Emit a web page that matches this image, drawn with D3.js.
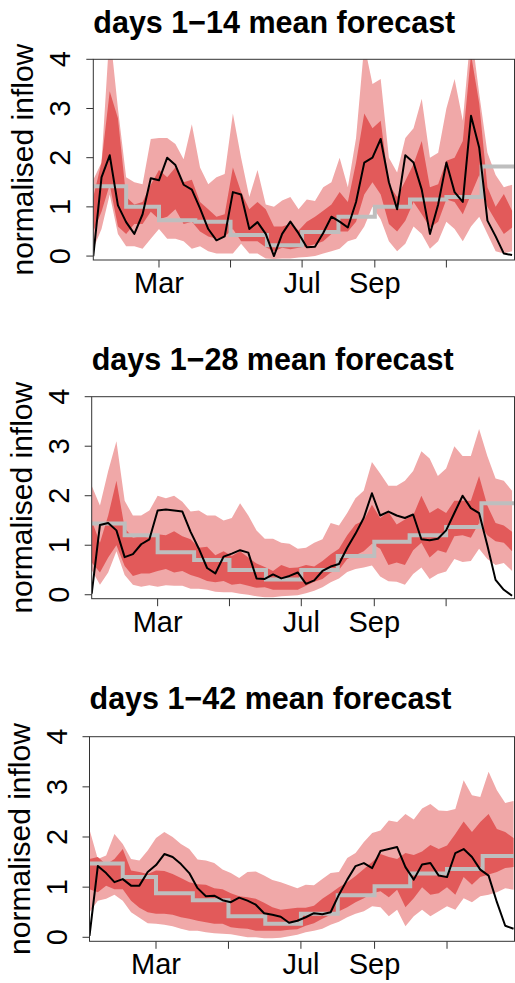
<!DOCTYPE html>
<html>
<head>
<meta charset="utf-8">
<script src="https://cdn.jsdelivr.net/npm/d3@7"></script>
<style>
body { margin: 0; background: #fff; }
svg { display: block; font-family: "Liberation Sans", Arial, Helvetica, sans-serif; }
</style>
</head>
<body>
<script>
// weekly forecast dates, Jan 4 .. Dec 27
var weeks = d3.timeDay.range(new Date(2001, 0, 4), new Date(2001, 11, 28), 7);
var monthStarts = d3.timeMonth.range(new Date(2001, 0, 1), new Date(2002, 0, 2));

var tickMonths = [2, 4, 6, 8, 10];
var tickLabels = ["Mar", "", "Jul", "Sep", ""];
var yTicks = [0, 1, 2, 3, 4];

// days 1-14
var p1Obs = [0.0, 1.6, 2.05, 1.03, 0.69, 0.45, 0.85, 1.58, 1.54, 2.0, 1.85, 1.45, 1.35, 0.97, 0.55, 0.32, 0.4, 1.3, 1.25, 0.55, 0.69, 0.45, 0.0, 0.45, 0.7, 0.46, 0.18, 0.19, 0.47, 0.8, 0.7, 0.58, 1.1, 1.9, 2.0, 2.38, 1.5, 0.95, 2.05, 1.9, 1.35, 0.45, 1.05, 1.9, 1.3, 1.1, 2.85, 2.2, 0.72, 0.4, 0.05, 0.02];
var p1Q95 = [1.55, 1.9, 4.6, 3.0, 1.6, 1.5, 1.46, 2.38, 2.4, 2.4, 2.28, 1.97, 2.68, 1.8, 1.46, 1.6, 1.67, 2.9, 2.0, 1.2, 1.75, 1.05, 1.0, 1.13, 1.2, 0.95, 1.15, 1.12, 1.4, 1.5, 2.0, 1.4, 2.4, 4.3, 3.5, 3.6, 2.0, 1.7, 2.4, 2.6, 3.2, 2.0, 2.1, 3.0, 3.6, 2.75, 4.6, 3.3, 2.1, 1.65, 1.4, 1.45];
var p1Q75 = [1.2, 1.9, 3.35, 2.8, 1.2, 1.05, 1.1, 1.45, 1.75, 1.6, 1.8, 1.5, 1.55, 1.1, 0.95, 0.8, 0.85, 1.8, 1.3, 0.95, 1.1, 0.95, 0.6, 0.6, 0.65, 0.52, 0.7, 0.8, 0.92, 1.05, 1.3, 1.1, 1.9, 2.9, 2.6, 2.75, 1.46, 1.2, 1.53, 1.87, 2.34, 1.4, 1.46, 1.94, 2.0, 2.34, 4.1, 3.1, 1.4, 1.0, 1.26, 0.92];
var p1Q25 = [0.5, 0.9, 1.45, 0.6, 0.45, 0.65, 0.65, 0.9, 0.75, 0.8, 0.95, 0.65, 0.7, 0.5, 0.4, 0.35, 0.4, 0.55, 0.3, 0.3, 0.3, 0.18, 0.1, 0.17, 0.14, 0.17, 0.2, 0.24, 0.3, 0.45, 0.5, 0.5, 0.7, 1.25, 1.5, 1.25, 0.65, 0.5, 0.72, 1.1, 0.85, 0.58, 0.7, 1.15, 1.1, 0.85, 1.25, 1.65, 1.0, 0.72, 0.45, 0.58];
var p1Q05 = [0.15, 0.55, 1.25, 0.45, 0.2, 0.2, 0.15, 0.35, 0.55, 0.35, 0.35, 0.3, 0.15, 0.2, 0.1, 0.05, 0.05, 0.05, 0.25, 0.05, 0.05, -0.05, -0.06, -0.05, -0.05, -0.03, -0.02, 0.0, 0.05, 0.1, 0.15, 0.3, 0.35, 0.6, 1.0, 0.75, 0.3, 0.1, 0.25, 0.6, 0.45, 0.15, 0.3, 0.7, 0.55, 0.3, 0.6, 0.8, 0.45, 0.1, 0.05, 0.1];
var p1Clim = [1.42, 1.0, 0.73, 0.7, 0.43, 0.22, 0.49, 0.8, 1.0, 1.15, 1.2, 1.82];

// days 1-28
var p2Obs = [0.02, 1.41, 1.45, 1.3, 0.76, 0.82, 1.02, 1.12, 1.7, 1.72, 1.7, 1.68, 1.27, 0.93, 0.54, 0.43, 0.77, 0.83, 0.9, 0.85, 0.33, 0.32, 0.41, 0.33, 0.38, 0.45, 0.22, 0.29, 0.48, 0.57, 0.62, 0.95, 1.23, 1.55, 2.05, 1.6, 1.68, 1.6, 1.55, 1.62, 1.12, 1.1, 1.13, 1.3, 1.65, 2.0, 1.75, 1.65, 1.0, 0.3, 0.1, -0.02];
var p2Q95 = [2.2, 1.8, 2.5, 3.1, 1.9, 1.6, 1.6, 1.7, 2.0, 1.95, 2.0, 1.88, 1.68, 1.7, 1.6, 1.6, 1.5, 1.55, 1.85, 1.6, 1.3, 1.13, 1.13, 1.05, 1.03, 0.93, 0.95, 1.05, 1.12, 1.45, 1.4, 1.65, 1.95, 2.1, 2.68, 2.45, 2.2, 2.2, 2.3, 2.5, 2.9, 2.75, 2.4, 2.55, 3.0, 2.8, 2.8, 3.35, 2.8, 2.35, 2.3, 2.1];
var p2Q75 = [1.5, 1.05, 1.6, 2.3, 1.35, 1.15, 1.18, 1.15, 1.22, 1.2, 1.28, 1.18, 1.12, 0.95, 0.97, 0.8, 0.88, 0.78, 0.88, 0.75, 0.63, 0.56, 0.48, 0.6, 0.54, 0.55, 0.6, 0.57, 0.68, 0.82, 0.93, 1.2, 1.42, 1.5, 1.82, 1.55, 1.67, 1.42, 1.52, 1.6, 2.0, 1.65, 1.75, 1.65, 1.9, 1.9, 1.9, 2.4, 1.8, 1.45, 1.4, 1.27];
var p2Q25 = [0.65, 0.45, 0.75, 1.0, 0.58, 0.38, 0.43, 0.43, 0.48, 0.52, 0.45, 0.48, 0.4, 0.35, 0.28, 0.25, 0.28, 0.2, 0.22, 0.18, 0.14, 0.15, 0.1, 0.1, 0.1, 0.1, 0.18, 0.26, 0.32, 0.45, 0.5, 0.72, 0.8, 0.88, 1.03, 0.93, 0.6, 0.65, 0.6, 0.9, 1.05, 0.75, 0.9, 0.85, 1.18, 1.2, 1.15, 1.45, 1.2, 1.08, 1.05, 0.88];
var p2Q05 = [0.5, 0.2, 0.45, 0.88, 0.4, 0.2, 0.16, 0.19, 0.16, 0.19, 0.18, 0.18, 0.12, 0.12, 0.1, 0.06, 0.05, 0.05, 0.02, 0.0, -0.03, -0.05, -0.05, -0.03, -0.02, -0.01, 0.03, 0.08, 0.15, 0.25, 0.33, 0.46, 0.52, 0.55, 0.59, 0.37, 0.27, 0.26, 0.2, 0.42, 0.55, 0.32, 0.42, 0.47, 0.72, 0.66, 0.68, 0.93, 0.72, 0.6, 0.64, 0.48];
var p2Clim = [1.44, 1.2, 0.86, 0.7, 0.5, 0.31, 0.5, 0.78, 1.07, 1.2, 1.37, 1.85];

// days 1-42
var p3Obs = [0.03, 1.42, 1.28, 1.1, 1.16, 1.03, 1.03, 1.3, 1.44, 1.66, 1.6, 1.46, 1.28, 0.98, 0.82, 0.83, 0.74, 0.7, 0.79, 0.73, 0.65, 0.48, 0.45, 0.41, 0.29, 0.33, 0.4, 0.48, 0.46, 0.5, 0.85, 1.15, 1.42, 1.48, 1.38, 1.72, 1.76, 1.8, 1.4, 1.15, 1.45, 1.48, 1.23, 1.2, 1.68, 1.76, 1.6, 1.35, 1.23, 0.7, 0.23, 0.17];
var p3Q95 = [2.15, 1.56, 1.63, 2.06, 1.86, 1.56, 1.53, 1.73, 1.98, 2.1, 2.0, 1.86, 1.76, 1.55, 1.53, 1.48, 1.35, 1.28, 1.18, 1.3, 1.31, 1.23, 1.14, 1.1, 1.04, 0.98, 1.05, 1.04, 1.16, 1.28, 1.3, 1.58, 1.68, 1.9, 2.08, 2.13, 2.33, 2.3, 2.46, 2.35, 2.57, 2.66, 2.53, 2.52, 2.56, 3.13, 2.83, 2.8, 3.3, 2.93, 2.68, 2.72];
var p3Q75 = [1.56, 1.6, 1.45, 1.56, 1.76, 1.33, 1.3, 1.26, 1.33, 1.32, 1.26, 1.18, 1.1, 1.06, 1.05, 0.98, 0.96, 0.88, 0.82, 0.8, 0.77, 0.69, 0.6, 0.55, 0.57, 0.59, 0.59, 0.63, 0.77, 0.88, 1.0, 1.1, 1.22, 1.36, 1.5, 1.66, 1.6, 1.56, 1.68, 1.64, 1.71, 1.84, 1.76, 1.83, 2.06, 2.31, 2.1, 2.3, 2.46, 2.16, 2.1, 1.98];
var p3Q25 = [0.96, 0.9, 1.03, 0.96, 0.96, 0.73, 0.59, 0.5, 0.47, 0.47, 0.45, 0.4, 0.37, 0.33, 0.3, 0.27, 0.27, 0.2, 0.18, 0.17, 0.13, 0.13, 0.13, 0.13, 0.15, 0.16, 0.23, 0.28, 0.37, 0.45, 0.52, 0.6, 0.7, 0.78, 0.88, 0.92, 0.8, 0.95, 0.6, 0.78, 1.0, 0.85, 0.88, 1.0, 0.85, 1.2, 1.05, 1.2, 1.25, 1.3, 1.38, 1.4];
var p3Q05 = [0.5, 0.73, 0.77, 0.85, 0.73, 0.5, 0.39, 0.28, 0.27, 0.25, 0.22, 0.17, 0.13, 0.13, 0.1, 0.08, 0.07, 0.06, 0.03, 0.0, 0.0, -0.02, -0.02, -0.01, 0.02, 0.05, 0.1, 0.13, 0.17, 0.25, 0.31, 0.4, 0.47, 0.52, 0.62, 0.6, 0.42, 0.55, 0.22, 0.42, 0.55, 0.42, 0.52, 0.62, 0.55, 0.78, 0.7, 0.82, 0.85, 0.9, 0.98, 0.95];
var p3Clim = [1.47, 1.2, 0.88, 0.74, 0.42, 0.27, 0.47, 0.84, 1.02, 1.27, 1.36, 1.62];

var panels = [
  {title: "days 1\u221214 mean forecast", obs: p1Obs, q95: p1Q95, q75: p1Q75, q25: p1Q25, q05: p1Q05, clim: p1Clim,
   left: 93.3, right: 515, top: 59.3, bottom: 260, titleY: 33},
  {title: "days 1\u221228 mean forecast", obs: p2Obs, q95: p2Q95, q75: p2Q75, q25: p2Q25, q05: p2Q05, clim: p2Clim,
   left: 91.7, right: 515, top: 396.7, bottom: 598.7, titleY: 370},
  {title: "days 1\u221242 mean forecast", obs: p3Obs, q95: p3Q95, q75: p3Q75, q25: p3Q25, q05: p3Q05, clim: p3Clim,
   left: 89.5, right: 516.5, top: 736.7, bottom: 941.3, titleY: 709}
];

var W = 515, H = 983;
var xDomain = [new Date(2001, 0, 4), new Date(2001, 11, 29, 12)];

var svg = d3.select("body").append("svg")
  .attr("width", W)
  .attr("height", H);

panels.forEach(function(p, i) {
  var x = d3.scaleTime().domain(xDomain).range([p.left, p.right]);
  var y = d3.scaleLinear().domain([-0.08, 4]).range([p.bottom, p.top]);
  var g = svg.append("g");

  svg.append("clipPath").attr("id", "clip" + i)
    .append("rect")
    .attr("x", p.left).attr("y", p.top)
    .attr("width", 515 - p.left).attr("height", p.bottom - p.top);

  var plot = g.append("g").attr("clip-path", "url(#clip" + i + ")");

  var outer = d3.area()
    .x(function(d, j) { return x(weeks[j]); })
    .y0(function(d, j) { return y(p.q05[j]); })
    .y1(function(d, j) { return y(p.q95[j]); });
  var inner = d3.area()
    .x(function(d, j) { return x(weeks[j]); })
    .y0(function(d, j) { return y(p.q25[j]); })
    .y1(function(d, j) { return y(p.q75[j]); });

  plot.append("path").datum(weeks).attr("d", outer).attr("fill", "#f0a8a8");
  plot.append("path").datum(weeks).attr("d", inner).attr("fill", "#e25a5a");

  // monthly climatology as steps
  var climPts = monthStarts.map(function(m, j) {
    return [m, p.clim[Math.min(j, p.clim.length - 1)]];
  });
  plot.append("path").datum(climPts)
    .attr("d", d3.line()
      .x(function(d) { return x(d[0]); })
      .y(function(d) { return y(d[1]); })
      .curve(d3.curveStepAfter))
    .attr("fill", "none").attr("stroke", "#bebebe").attr("stroke-width", 4);

  plot.append("path").datum(p.obs)
    .attr("d", d3.line()
      .x(function(d, j) { return x(weeks[j]); })
      .y(function(d) { return y(d); }))
    .attr("fill", "none").attr("stroke", "#000").attr("stroke-width", 2)
    .attr("stroke-linejoin", "round");

  // box
  g.append("rect")
    .attr("x", p.left).attr("y", p.top)
    .attr("width", 514.5 - p.left).attr("height", p.bottom - p.top)
    .attr("fill", "none").attr("stroke", "#333").attr("stroke-width", 1);

  // y axis
  g.selectAll(".ytick").data(yTicks).enter().append("line")
    .attr("x1", p.left - 7).attr("x2", p.left)
    .attr("y1", function(d) { return y(d); }).attr("y2", function(d) { return y(d); })
    .attr("stroke", "#333");
  g.selectAll(".ylab").data(yTicks).enter().append("text")
    .attr("transform", function(d) { return "translate(" + (p.left - 23) + "," + y(d) + ") rotate(-90)"; })
    .attr("text-anchor", "middle")
    .attr("font-size", "29px")
    .text(function(d) { return d; });
  g.append("text")
    .attr("transform", "translate(" + (p.left - 60) + "," + ((p.top + p.bottom) / 2) + ") rotate(-90)")
    .attr("text-anchor", "middle")
    .attr("font-size", "30px")
    .text("normalised inflow");

  // x axis
  tickMonths.forEach(function(m, j) {
    var tx = x(new Date(2001, m, 1));
    g.append("line")
      .attr("x1", tx).attr("x2", tx)
      .attr("y1", p.bottom).attr("y2", p.bottom + 7.5)
      .attr("stroke", "#333");
    g.append("text")
      .attr("x", tx).attr("y", p.bottom + 33)
      .attr("text-anchor", "middle")
      .attr("font-size", "29px")
      .text(tickLabels[j]);
  });

  g.append("text")
    .attr("x", p.left).attr("y", p.titleY)
    .attr("font-size", "30.5px")
    .attr("font-weight", "bold")
    .text(p.title);
});
</script>
</body>
</html>
